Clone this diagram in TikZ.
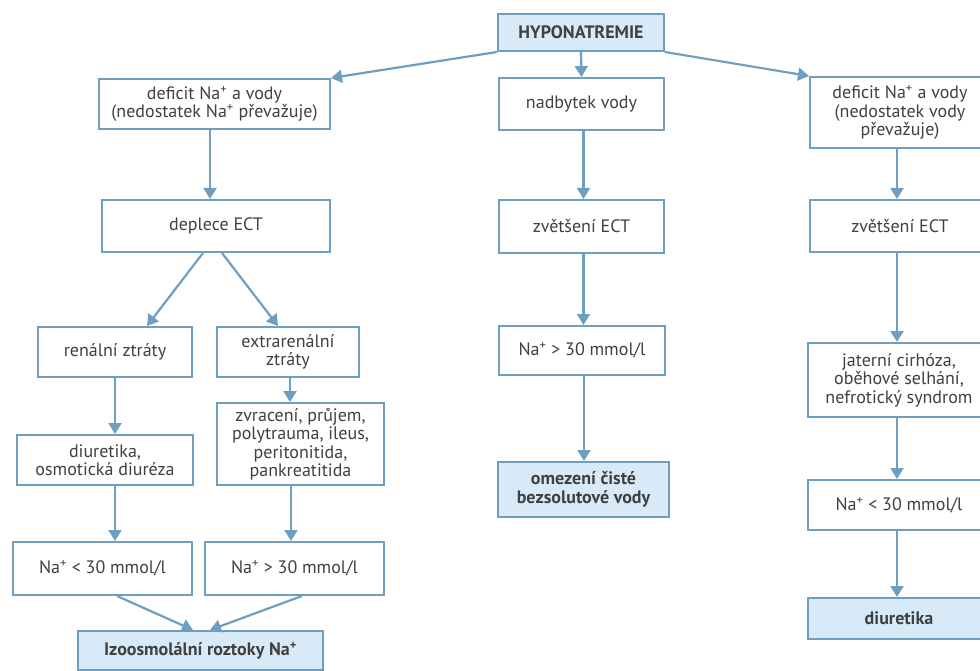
\documentclass[tikz,border=0pt]{standalone}
\usepackage{fontspec}
\setmainfont{PT Sans}
\usetikzlibrary{arrows.meta}
\definecolor{lineblue}{HTML}{6E9FC0}
\definecolor{fillblue}{HTML}{D8EAF8}
\definecolor{txt}{HTML}{404040}
\tikzset{
  box/.style={draw=lineblue, line width=2pt, fill=white, text=txt, align=center,
    inner sep=1pt, font=\fontsize{18}{18.5}\selectfont},
  keybox/.style={box, fill=fillblue, font=\fontsize{18}{19}\selectfont\bfseries},
  conn/.style={draw=lineblue, line width=2.2pt, -{Triangle[width=13pt,length=11pt]}},
}
\newcommand{\nap}{Na\textsuperscript{+}}
\begin{document}
\begin{tikzpicture}[x=1pt,y=-1pt]
\useasboundingbox (0,0) rectangle (980,671);
% top
\node[keybox, minimum width=166pt, minimum height=37pt] (hypo) at (581,32.5) {HYPONATREMIE};
% left column
\node[box, minimum width=231pt, minimum height=50pt] (L1) at (214.5,104) {deficit \nap{} a vody\\(nedostatek \nap{} převažuje)};
\node[box, minimum width=228pt, minimum height=52pt] (L2) at (216,226) {deplece ECT};
\node[box, minimum width=154pt, minimum height=50pt] (L3a) at (115,352) {renální ztráty};
\node[box, minimum width=142pt, minimum height=50pt] (L3b) at (288,352) {extrarenální\\ztráty};
\node[box, minimum width=176pt, minimum height=50pt] (L4a) at (105,460) {diuretika,\\osmotická diuréza};
\node[box, minimum width=167pt, minimum height=82pt] (L4b) at (300.5,444) {zvracení, průjem,\\polytrauma, ileus,\\peritonitida,\\pankreatitida};
\node[box, minimum width=179pt, minimum height=53pt] (L5a) at (102.5,568.5) {\nap{} < 30 mmol/l};
\node[box, minimum width=179pt, minimum height=53pt] (L5b) at (294.5,568.5) {\nap{} > 30 mmol/l};
\node[keybox, minimum width=245pt, minimum height=39pt] (L6) at (200.5,650.5) {Izoosmolální roztoky \nap};
% middle column
\node[box, minimum width=165pt, minimum height=52pt] (M1) at (581.5,104) {nadbytek vody};
\node[box, minimum width=165pt, minimum height=53pt] (M2) at (581.5,226.5) {zvětšení ECT};
\node[box, minimum width=166pt, minimum height=49pt] (M3) at (582,350.5) {\nap{} > 30 mmol/l};
\node[keybox, minimum width=171pt, minimum height=55pt] (M4) at (583.5,489.5) {omezení čisté\\bezsolutové vody};
% right column
\node[box, minimum width=180pt, minimum height=71pt] (R1) at (900,112.5) {deficit \nap{} a vody\\(nedostatek vody\\převažuje)};
\node[box, minimum width=180pt, minimum height=52pt] (R2) at (900,226) {zvětšení ECT};
\node[box, minimum width=182pt, minimum height=74pt] (R3) at (899,380) {jaterní cirhóza,\\oběhové selhání,\\nefrotický syndrom};
\node[box, minimum width=182pt, minimum height=50pt] (R4) at (899,505) {\nap{} < 30 mmol/l};
\node[keybox, minimum width=182pt, minimum height=41pt] (R5) at (899,618.5) {diuretika};
% connectors
\draw[conn] (hypo.south west) -- (L1.north east);
\draw[conn] (hypo.south) -- (M1.north);
\draw[conn] (hypo.south east) -- (R1.north west);
\draw[conn] ([xshift=-4.5pt]L1.south) -- ([xshift=-6pt]L2.north);
\draw[conn] ([xshift=-13pt]L2.south) -- ([xshift=32pt]L3a.north);
\draw[conn] ([xshift=6pt]L2.south) -- ([xshift=-10pt]L3b.north);
\draw[conn] (L3a.south) -- (L3a.south |- L4a.north);
\draw[conn] ([xshift=2pt]L3b.south) -- ([xshift=2pt]L3b.south |- L4b.north);
\draw[conn] (L3a.south |- L4a.south) -- (L3a.south |- L5a.north);
\draw[conn] ([xshift=3pt]L3b.south |- L4b.south) -- ([xshift=3pt]L3b.south |- L5b.north);
\draw[conn] ([xshift=14.5pt]L5a.south) -- ([xshift=-7.5pt]L6.north);
\draw[conn] ([xshift=7.5pt]L5b.south) -- ([xshift=9.5pt]L6.north);
\draw[conn] ([xshift=2pt]M1.south) -- ([xshift=2pt]M2.north);
\draw[conn] ([xshift=2pt]M2.south) -- ([xshift=2pt]M2.south |- M3.north);
\draw[conn] ([xshift=2pt]M3.south) -- ([xshift=2pt]M3.south |- M4.north);
\draw[conn] ([xshift=-3pt]R1.south) -- ([xshift=-3pt]R2.north);
\draw[conn] ([xshift=-3pt]R2.south) -- ([xshift=-2pt]R3.north);
\draw[conn] ([xshift=-2pt]R3.south) -- ([xshift=-2pt]R4.north);
\draw[conn] ([xshift=-2pt]R4.south) -- ([xshift=-2pt]R5.north);
\end{tikzpicture}
\end{document}
